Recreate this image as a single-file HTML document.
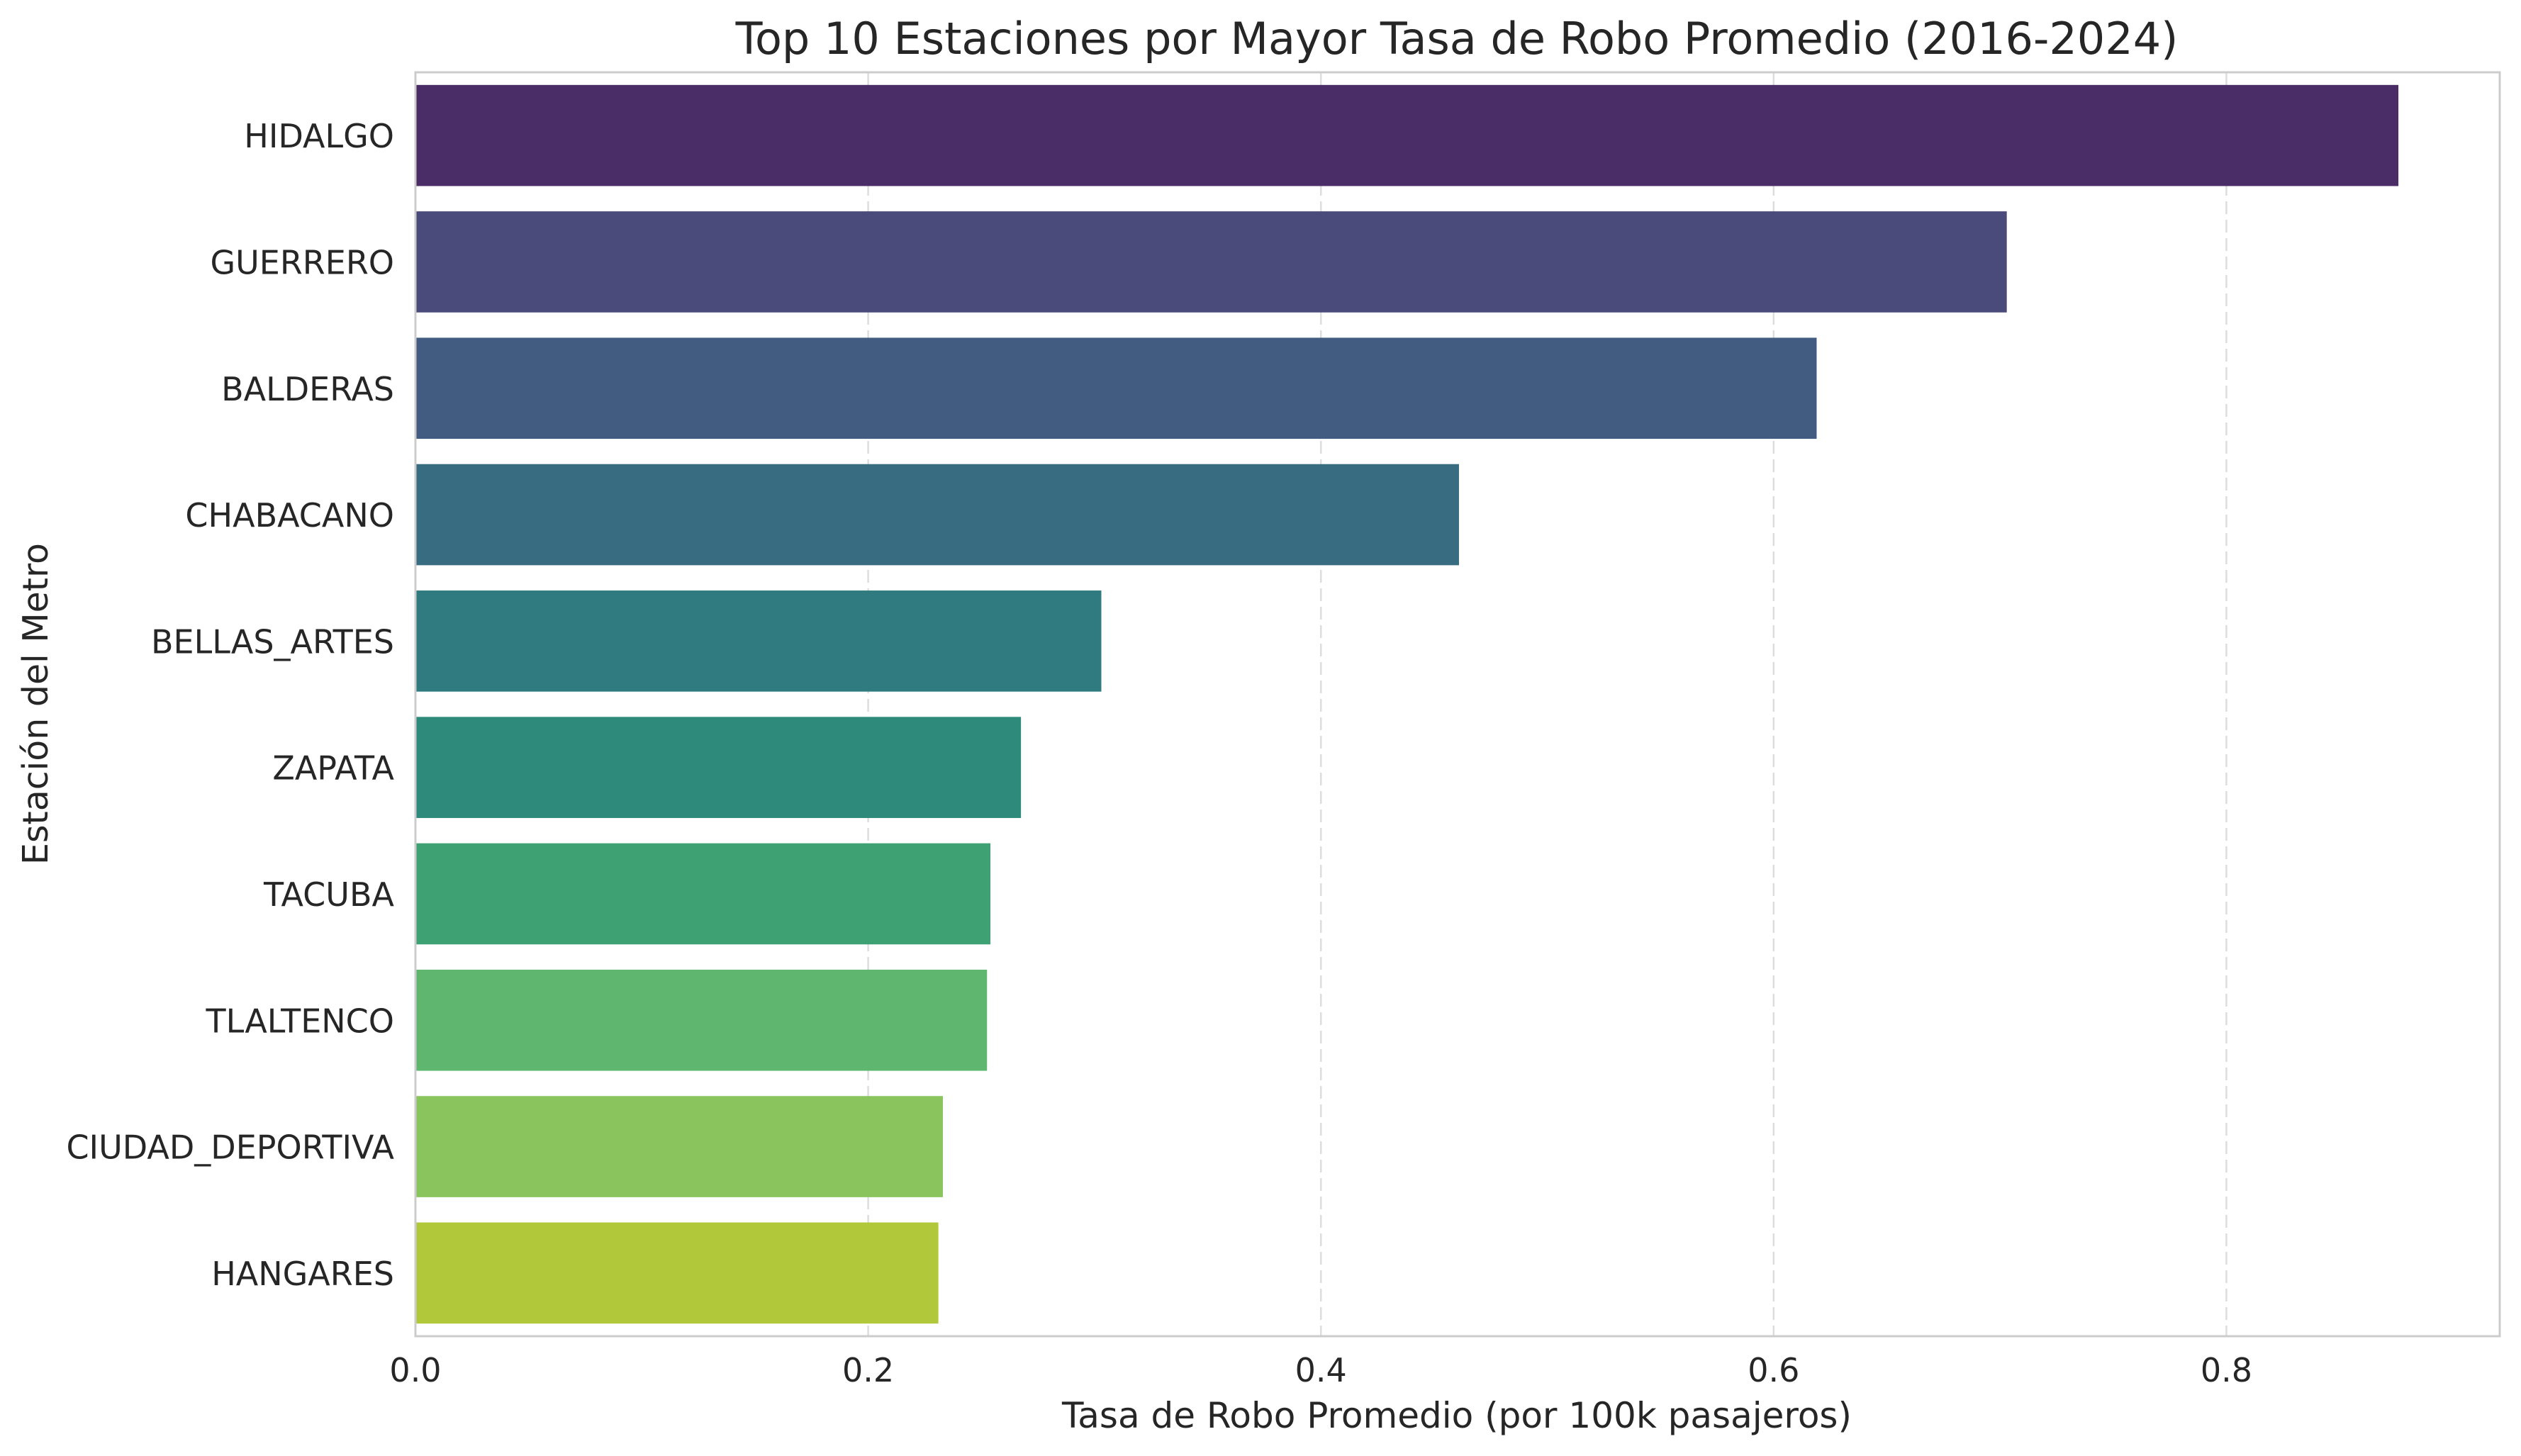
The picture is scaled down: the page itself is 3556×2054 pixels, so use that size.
<!DOCTYPE html>
<html><head><meta charset="utf-8"><style>
html,body{margin:0;padding:0;background:#fff;}
svg{display:block;font-family:"DejaVu Sans","Liberation Sans",sans-serif;}
</style></head><body>
<svg id="chart" width="3556" height="2054" viewBox="0 0 3556 2054">
<rect x="0" y="0" width="3556" height="2054" fill="#fff"/>
<text x="2055" y="76" text-anchor="middle" font-size="62" fill="#262626">Top 10 Estaciones por Mayor Tasa de Robo Promedio (2016-2024)</text>
<g id="grid"></g>
<g id="bars"></g>
<g id="yticks"></g>
<g id="xticks"></g>
<rect x="586" y="102" width="2940" height="1783" fill="none" stroke="#cccccc" stroke-width="3"/>
<text x="2055" y="2014" text-anchor="middle" font-size="50" fill="#262626">Tasa de Robo Promedio (por 100k pasajeros)</text>
<text transform="translate(67,993) rotate(-90)" text-anchor="middle" font-size="49" fill="#262626">Estación del Metro</text>
</svg>
<script>
const categories = ["HIDALGO","GUERRERO","BALDERAS","CHABACANO","BELLAS_ARTES","ZAPATA","TACUBA","TLALTENCO","CIUDAD_DEPORTIVA","HANGARES"];
const values = [0.876, 0.703, 0.619, 0.461, 0.303, 0.2675, 0.254, 0.2525, 0.233, 0.231];
const colors = ["#4a2c67","#4a4a7b","#425b80","#386c80","#307b80","#2e8b7c","#3da174","#5fb66e","#89c45d","#b1c83a"];
const xTicks = [0.0, 0.2, 0.4, 0.6, 0.8];
const xTickLabels = ["0.0","0.2","0.4","0.6","0.8"];

const NS = "http://www.w3.org/2000/svg";
const plotLeft = 586, plotRight = 3526, plotTop = 102, plotBottom = 1885;
const pxPerUnit = 3193;
function xScale(v){ return plotLeft + v * pxPerUnit; }
const band = (plotBottom - plotTop) / categories.length;
function yScale(i){ return plotTop + i * band; }

const grid = document.getElementById('grid');
const xt = document.getElementById('xticks');
xTicks.forEach((t, i) => {
  const x = xScale(t);
  if (i > 0) {
    const l = document.createElementNS(NS, 'line');
    l.setAttribute('x1', x); l.setAttribute('x2', x);
    l.setAttribute('y1', plotTop); l.setAttribute('y2', plotBottom);
    l.setAttribute('stroke', '#dddddd'); l.setAttribute('stroke-width', '2.5');
    l.setAttribute('stroke-dasharray', '18 8');
    
    
    grid.appendChild(l);
  }
  const tx = document.createElementNS(NS, 'text');
  tx.setAttribute('x', x); tx.setAttribute('y', 1949);
  tx.setAttribute('text-anchor', 'middle'); tx.setAttribute('font-size', '46');
  tx.setAttribute('fill', '#262626');
  tx.textContent = xTickLabels[i];
  
  
  xt.appendChild(tx);
});

const bars = document.getElementById('bars');
const yt = document.getElementById('yticks');
categories.forEach((c, i) => {
  const y0 = yScale(i);
  const r = document.createElementNS(NS, 'rect');
  r.setAttribute('x', plotLeft);
  r.setAttribute('y', y0 + band * 0.1);
  r.setAttribute('width', xScale(values[i]) - plotLeft);
  r.setAttribute('height', band * 0.8);
  r.setAttribute('fill', colors[i]);
  
  
  bars.appendChild(r);
  const t = document.createElementNS(NS, 'text');
  t.setAttribute('x', 556);
  t.setAttribute('y', y0 + band / 2 + 17);
  t.setAttribute('text-anchor', 'end'); t.setAttribute('font-size', '46');
  t.setAttribute('fill', '#262626');
  t.textContent = c;
  
  
  yt.appendChild(t);
});
</script>
</body></html>
